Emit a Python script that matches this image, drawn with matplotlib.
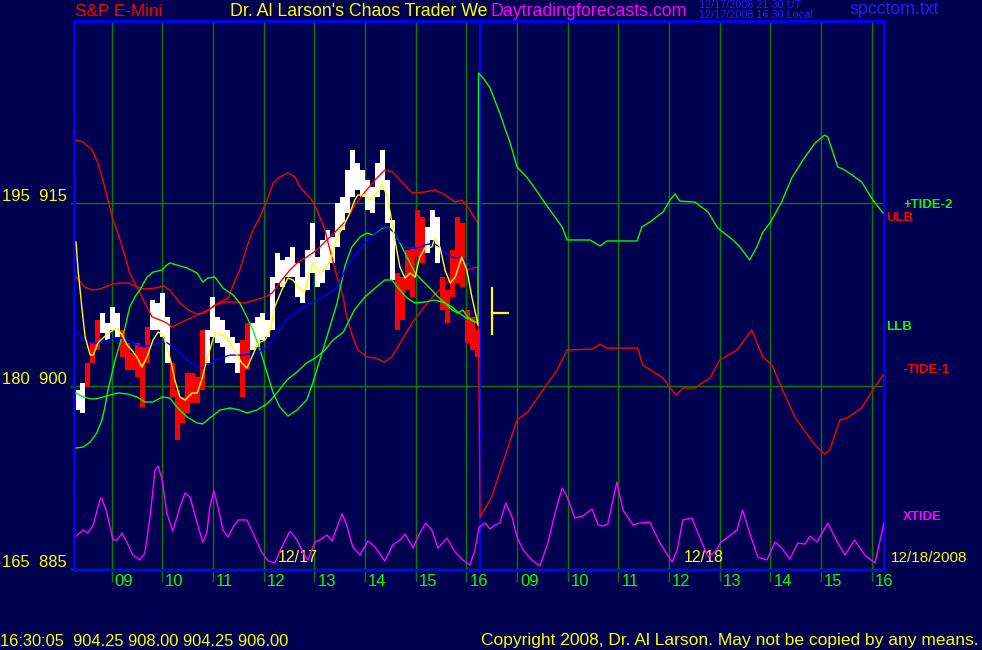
import matplotlib
matplotlib.use('Agg')
import matplotlib.pyplot as plt

# ---------------- data ----------------
hour_ticks = [0, 1, 2, 3, 4, 5, 6, 7, 8, 9, 10, 11, 12, 13, 14, 15]
hour_labels = ['09', '10', '11', '12', '13', '14', '15', '16',
               '09', '10', '11', '12', '13', '14', '15', '16']
price_levels = [885, 900, 915]
left_labels = ['165  885', '180  900', '195  915']
day_labels = ['12/17', '12/18']
day_label_x = [3.28, 11.28]
date_label = '12/18/2008'
session_break = 7.27

last_time = '16:30:05'
last_ohlc = [904.25, 908.00, 904.25, 906.00]
last_bar_x = 7.50

bar_x = [-0.66, -0.57, -0.47, -0.37, -0.28, -0.18, -0.08, 0.02, 0.12, 0.22,
         0.32, 0.41, 0.51, 0.61, 0.71, 0.81, 0.91, 1.01, 1.11, 1.20,
         1.30, 1.40, 1.50, 1.60, 1.70, 1.80, 1.90, 2.00, 2.10, 2.19,
         2.29, 2.39, 2.49, 2.59, 2.69, 2.78, 2.88, 2.98, 3.08, 3.18,
         3.28, 3.37, 3.47, 3.57, 3.67, 3.77, 3.87, 3.97, 4.06, 4.16,
         4.26, 4.36, 4.46, 4.56, 4.66, 4.75, 4.85, 4.95, 5.05, 5.15,
         5.25, 5.34, 5.44, 5.54, 5.64, 5.74, 5.84, 5.94, 6.03, 6.13,
         6.23, 6.33, 6.43, 6.53, 6.63, 6.72, 6.82, 6.92, 7.02, 7.12,
         7.22]
bar_low = [898.03, 897.79, 899.92, 901.89, 902.95, 904.34, 903.77, 904.59, 904.02, 902.38,
           901.31, 901.31, 900.74, 898.28, 901.89, 904.59, 904.59, 904.02, 901.89, 899.10,
           895.57, 896.97, 897.79, 898.61, 898.61, 899.67, 901.89, 904.02, 903.52, 903.20,
           901.89, 901.89, 901.07, 899.10, 901.31, 902.95, 903.20, 903.77, 904.02, 904.59,
           908.44, 908.11, 908.93, 908.93, 907.30, 906.80, 907.87, 909.26, 908.11, 908.44,
           909.51, 910.08, 911.39, 912.79, 914.18, 915.49, 916.07, 915.49, 914.43, 914.18,
           915.49, 916.07, 913.36, 908.69, 904.59, 905.41, 907.87, 907.30, 910.57, 910.08,
           910.90, 911.97, 910.08, 906.23, 905.16, 907.30, 908.44, 908.11, 903.52, 902.95,
           902.38]
bar_high = [899.67, 900.25, 901.89, 903.52, 905.41, 905.98, 905.16, 906.48, 905.98, 904.59,
            903.52, 902.70, 903.52, 903.20, 904.84, 907.05, 906.80, 907.62, 905.66, 901.89,
            899.67, 899.10, 901.07, 901.07, 900.74, 904.59, 904.59, 907.30, 905.66, 905.41,
            904.59, 904.02, 903.52, 903.77, 905.16, 905.16, 905.66, 905.98, 905.41, 908.93,
            910.90, 910.33, 910.57, 911.39, 910.08, 908.93, 911.15, 913.36, 910.57, 911.97,
            912.79, 912.21, 915.00, 915.49, 917.70, 919.34, 918.28, 917.70, 916.89, 916.31,
            918.28, 919.34, 916.89, 913.61, 909.26, 908.93, 911.15, 911.39, 914.43, 913.85,
            913.03, 914.43, 913.85, 908.93, 907.87, 911.15, 913.85, 913.36, 906.23, 905.66,
            904.59]
bar_up = [1, 1, 0, 0, 0, 1, 1, 1, 1, 0,
          0, 0, 0, 0, 0, 1, 1, 1, 1, 0,
          0, 0, 0, 0, 0, 0, 1, 1, 1, 1,
          1, 1, 1, 0, 0, 1, 1, 1, 1, 1,
          1, 1, 1, 1, 1, 1, 1, 1, 1, 1,
          1, 1, 1, 1, 1, 1, 1, 1, 1, 1,
          1, 1, 1, 1, 0, 0, 0, 0, 0, 0,
          1, 1, 1, 0, 0, 0, 0, 0, 0, 0,
          0]

ulb_x = [-0.70, -0.52, -0.38, -0.23, -0.03, 0.13, 0.33, 0.46, 0.66, 0.86, 1.02, 1.15,
         1.35, 1.55, 1.69, 1.84, 2.04, 2.24, 2.44, 2.63, 2.83, 3.03, 3.17, 3.36, 3.52,
         3.66, 3.85, 4.05, 4.25, 4.45, 4.64, 4.80, 5.00, 5.20, 5.39, 5.55, 5.69, 5.93,
         6.18, 6.38, 6.58, 6.78, 6.91, 7.03, 7.23]
ulb_y = [908.93, 908.11, 907.87, 907.95, 908.28, 908.44, 908.44, 908.20, 907.95, 908.03,
         908.20, 907.87, 906.80, 906.15, 905.90, 905.98, 906.64, 906.89, 906.89, 906.80,
         907.05, 907.30, 907.62, 908.69, 909.51, 910.08, 910.57, 911.15, 911.97, 912.79,
         913.61, 914.84, 915.90, 916.89, 917.70, 917.54, 916.89, 915.82, 915.90, 916.07,
         915.66, 915.08, 915.25, 914.67, 913.36]

llb_x = [-0.70, -0.56, -0.38, -0.23, -0.03, 0.13, 0.33, 0.50, 0.66, 0.82, 1.00, 1.15,
         1.29, 1.49, 1.69, 1.80, 1.94, 2.14, 2.34, 2.53, 2.67, 2.87, 3.09, 3.26, 3.46,
         3.66, 3.85, 4.05, 4.21, 4.37, 4.57, 4.80, 5.00, 5.20, 5.39, 5.53, 5.69, 5.83,
         5.99, 6.18, 6.38, 6.58, 6.72, 6.83, 6.97, 7.17, 7.23]
llb_y = [899.43, 899.10, 898.93, 899.02, 899.26, 899.43, 899.34, 899.10, 898.69, 898.69,
         899.10, 899.02, 898.28, 897.46, 896.97, 896.89, 897.38, 898.03, 898.20, 898.03,
         897.79, 898.03, 898.61, 899.43, 900.49, 901.15, 901.89, 902.38, 902.95, 903.77,
         904.40, 906.30, 907.30, 908.03, 908.69, 908.69, 907.87, 907.21, 906.80, 906.89,
         907.05, 906.80, 906.48, 906.07, 905.66, 905.25, 905.16]

tide1_x = [-0.70, -0.56, -0.38, -0.27, -0.17, -0.07, 0.03, 0.17, 0.27, 0.36, 0.50, 0.66,
           0.80, 0.96, 1.09, 1.19, 1.35, 1.65, 1.94, 2.14, 2.30, 2.44, 2.53, 2.67, 2.79,
           2.93, 3.07, 3.19, 3.32, 3.48, 3.62, 3.72, 3.92, 4.01, 4.11, 4.21, 4.31, 4.45,
           4.57, 4.64, 4.76, 4.86, 5.04, 5.20, 5.39, 5.53, 5.73, 5.93, 6.12, 6.32, 6.52,
           6.72, 6.91, 7.11, 7.23,
           7.27, 7.50, 7.72, 8.00, 8.21, 8.51, 8.79, 8.99, 9.48, 9.64, 9.77, 10.38, 10.48,
           10.88, 11.02, 11.14, 11.27, 11.51, 11.81, 12.00, 12.34, 12.63, 12.85, 13.03,
           13.24, 13.48, 13.88, 14.07, 14.17, 14.37, 14.51, 14.80, 15.02, 15.22]
tide1_y = [920.16, 920.00, 919.34, 918.28, 916.89, 915.25, 913.61, 911.97, 910.57, 909.26,
           908.11, 906.80, 905.66, 905.41, 905.16, 904.84, 905.16, 905.74, 906.31, 906.89,
           907.21, 908.69, 909.51, 911.39, 912.79, 913.85, 915.25, 916.64, 917.13, 917.46,
           917.13, 916.31, 915.41, 914.84, 913.85, 912.79, 911.15, 908.93, 907.30, 905.66,
           904.02, 902.95, 902.38, 902.30, 901.97, 902.38, 903.77, 905.16, 906.23, 907.21,
           908.11, 908.85, 909.34, 909.67, 909.75,
           889.26, 890.90, 893.69, 897.21, 897.87, 899.67, 901.31, 902.95, 903.03, 903.44,
           903.11, 903.11, 901.72, 900.66, 899.84, 899.26, 899.84, 899.84, 900.66, 902.13,
           902.95, 904.59, 902.38, 901.72, 899.67, 897.46, 895.16, 894.43, 894.75, 897.21,
           897.38, 898.20, 899.67, 900.90]

tide2_x = [-0.70, -0.56, -0.42, -0.29, -0.19, -0.13, -0.07, 0.01, 0.07, 0.17, 0.27, 0.36,
           0.46, 0.56, 0.70, 0.82, 1.00, 1.09, 1.15, 1.29, 1.49, 1.69, 1.80, 1.90, 2.04,
           2.20, 2.40, 2.53, 2.67, 2.79, 2.93, 3.07, 3.19, 3.32, 3.48, 3.66, 3.85, 3.97,
           4.17, 4.45, 4.61, 4.74, 4.90, 5.04, 5.16, 5.34, 5.45, 5.59, 5.69, 5.79, 5.89,
           5.99, 6.12, 6.32, 6.44, 6.58, 6.72, 6.83, 6.93, 7.03, 7.17, 7.23,
           7.24, 7.33, 7.47, 7.56, 7.66, 7.76, 7.86, 8.00, 8.19, 8.35, 8.55, 8.75, 8.89,
           8.99, 9.44, 9.64, 9.77, 10.37, 10.46, 10.62, 10.88, 11.02, 11.12, 11.21, 11.51,
           11.77, 11.96, 12.26, 12.40, 12.59, 12.73, 12.85, 12.99, 13.22, 13.42, 13.64,
           13.88, 14.07, 14.13, 14.33, 14.43, 14.61, 14.80, 15.02, 15.22]
tide2_y = [894.92, 895.00, 895.41, 896.15, 897.21, 898.28, 899.67, 901.07, 902.13, 903.52,
           904.84, 906.48, 907.30, 907.87, 908.93, 909.34, 909.51, 909.92, 910.08, 909.92,
           909.67, 909.26, 908.52, 908.85, 908.93, 908.03, 907.46, 906.80, 905.66, 904.59,
           902.95, 901.07, 899.43, 898.28, 897.54, 898.03, 898.85, 900.25, 902.95, 906.80,
           909.92, 911.39, 912.21, 912.54, 912.38, 912.95, 913.03, 912.54, 911.72, 910.90,
           910.08, 909.26, 908.69, 907.87, 907.30, 906.80, 906.23, 905.98, 906.23, 905.66,
           905.25, 905.16,
           925.66, 925.25, 924.43, 923.44, 922.38, 921.15, 920.00, 917.95, 917.13, 916.23,
           915.00, 913.85, 913.03, 911.97, 911.97, 911.48, 911.89, 911.89, 913.03, 913.44,
           914.26, 915.25, 915.74, 915.16, 915.08, 914.26, 912.95, 911.97, 911.39, 910.33,
           911.39, 912.62, 913.36, 915.08, 917.05, 918.52, 919.92, 920.57, 920.41, 917.95,
           917.79, 917.30, 916.72, 915.25, 914.18]

fast_x = [-0.70, -0.66, -0.58, -0.52, -0.42, -0.36, -0.27, -0.17, -0.03, 0.11, 0.21, 0.31,
          0.40, 0.50, 0.60, 0.70, 0.82, 0.92, 1.02, 1.15, 1.25, 1.35, 1.45, 1.59, 1.69,
          1.79, 1.88, 1.98, 2.04, 2.20, 2.34, 2.44, 2.57, 2.67, 2.77, 2.89, 3.03, 3.13,
          3.22, 3.36, 3.48, 3.58, 3.68, 3.81, 3.88, 3.97, 4.11, 4.25, 4.35, 4.45, 4.57,
          4.70, 4.80, 4.86, 5.00, 5.10, 5.24, 5.34, 5.43, 5.49, 5.59, 5.69, 5.79, 5.89,
          5.99, 6.08, 6.18, 6.32, 6.38, 6.48, 6.58, 6.68, 6.78, 6.91, 7.01, 7.11, 7.21,
          7.23]
fast_y = [911.80, 909.51, 906.23, 904.02, 902.54, 902.54, 903.52, 903.93, 904.43, 904.75,
          904.18, 903.36, 902.95, 902.38, 901.56, 902.38, 903.77, 904.43, 904.18, 902.38,
          900.49, 899.10, 898.85, 899.43, 899.43, 900.66, 902.13, 903.52, 904.34, 904.18,
          903.52, 902.79, 901.89, 901.48, 902.38, 903.52, 903.77, 904.59, 906.48, 907.87,
          908.85, 908.69, 908.11, 907.70, 908.93, 910.08, 909.26, 909.75, 910.74, 912.21,
          913.03, 914.18, 915.25, 915.66, 915.66, 915.25, 915.82, 916.48, 915.66, 914.43,
          911.97, 909.75, 908.85, 909.26, 908.93, 910.57, 911.31, 911.39, 912.13, 911.39,
          909.51, 908.44, 908.93, 910.57, 909.51, 907.30, 905.41, 905.00]

slow_x = [-0.70, -0.56, -0.36, -0.17, 0.03, 0.23, 0.42, 0.62, 0.82, 1.00, 1.11, 1.29,
          1.49, 1.69, 1.80, 2.04, 2.34, 2.59, 2.87, 3.07, 3.26, 3.46, 3.66, 3.85, 4.05,
          4.25, 4.45, 4.64, 4.80, 5.00, 5.20, 5.34, 5.45, 5.59, 5.69, 5.85, 6.05, 6.18,
          6.34, 6.48, 6.64, 6.78, 6.91, 7.03, 7.17]
slow_y = [904.59, 903.77, 903.52, 903.61, 903.93, 903.93, 903.52, 903.20, 903.36, 903.61,
          903.52, 902.95, 902.13, 901.56, 901.48, 902.13, 902.54, 902.54, 902.70, 903.20,
          904.34, 905.41, 906.07, 906.64, 907.05, 907.46, 908.11, 909.75, 910.74, 911.72,
          912.54, 913.03, 913.03, 912.54, 911.80, 911.31, 911.31, 911.56, 911.72, 911.39,
          910.74, 910.49, 910.57, 910.08, 909.26]

xtide_x = [-0.70, -0.56, -0.47, -0.36, -0.23, -0.19, -0.09, 0.03, 0.11, 0.21, 0.31, 0.42,
           0.56, 0.66, 0.76, 0.86, 0.92, 1.00, 1.09, 1.21, 1.35, 1.45, 1.55, 1.69, 1.80,
           1.88, 1.94, 2.02, 2.10, 2.20, 2.30, 2.40, 2.50, 2.67, 2.79, 2.97, 3.09, 3.22,
           3.36, 3.52, 3.66, 3.78, 3.88, 4.01, 4.11, 4.25, 4.35, 4.45, 4.55, 4.64, 4.76,
           4.90, 5.06, 5.20, 5.39, 5.55, 5.69, 5.79, 5.95, 6.08, 6.20, 6.32, 6.44, 6.62,
           6.78, 6.93, 7.07, 7.17, 7.25, 7.37, 7.47, 7.56, 7.66, 7.78, 7.90, 8.00, 8.12,
           8.29, 8.45, 8.61, 8.75, 8.89, 8.99, 9.14, 9.30, 9.48, 9.60, 9.69, 9.79, 9.97,
           10.09, 10.29, 10.42, 10.62, 10.82, 11.06, 11.16, 11.27, 11.45, 11.61, 11.77,
           11.94, 12.02, 12.16, 12.34, 12.45, 12.59, 12.75, 12.93, 13.09, 13.22, 13.38,
           13.54, 13.68, 13.78, 13.92, 14.13, 14.33, 14.47, 14.66, 14.86, 15.06, 15.24]
xtide_y = [887.70, 888.20, 887.95, 888.61, 890.66, 890.82, 889.59, 887.38, 887.38, 887.95,
           887.13, 886.15, 885.74, 886.31, 889.26, 893.11, 893.44, 892.30, 889.59, 888.11,
           890.08, 891.23, 890.90, 888.77, 887.21, 887.95, 890.08, 891.39, 890.08, 888.20,
           887.62, 888.44, 889.02, 889.02, 887.95, 886.31, 885.66, 885.49, 886.80, 888.11,
           887.38, 886.31, 885.74, 887.21, 887.38, 887.79, 887.30, 888.44, 889.51, 888.61,
           886.80, 886.15, 887.30, 886.80, 885.66, 886.97, 887.38, 887.87, 886.72, 887.95,
           888.77, 888.20, 886.72, 887.54, 886.39, 885.74, 885.33, 886.56, 888.44, 888.77,
           888.28, 888.61, 888.77, 890.41, 889.26, 887.62, 886.56, 885.74, 885.25, 887.13,
           889.59, 891.64, 890.90, 889.18, 889.34, 889.92, 888.61, 888.52, 888.69, 892.13,
           889.84, 888.61, 888.77, 888.85, 887.13, 885.57, 886.56, 889.02, 889.18, 887.54,
           885.98, 886.56, 887.21, 887.62, 888.20, 889.84, 887.95, 885.98, 885.74, 887.21,
           886.72, 885.82, 887.13, 887.05, 887.70, 887.21, 888.77, 887.13, 886.15, 887.38,
           886.15, 885.49, 888.77]

# ---------------- styling ----------------
BG = '#000050'
GRID = '#008000'
BORDER = '#0000FF'
FAM = ['Liberation Sans', 'DejaVu Sans']

W, H = 982, 650
fig = plt.figure(figsize=(W / 100, H / 100), dpi=100, facecolor=BG)
ax = fig.add_axes([74 / W, 80 / H, 810 / W, 549 / H])
ax.set_facecolor(BG)
ax.set_xlim(-0.74, 15.24)
ax.set_ylim(884.92, 929.92)
ax.set_xticks([])
ax.set_yticks([])
for s in ax.spines.values():
    s.set_color(BORDER)
    s.set_linewidth(2)

# grid
for t in hour_ticks:
    ax.axvline(t, ymin=-0.02, ymax=1, color=GRID, lw=1, clip_on=False, zorder=1)
for p in price_levels:
    ax.axhline(p, xmin=-0.004, xmax=1, color=GRID, lw=1, clip_on=False, zorder=1)
ax.axvline(session_break, color=BORDER, lw=1.5, zorder=1)

# price bars
heights = [h - l for h, l in zip(bar_high, bar_low)]
colors = ['white' if u else '#FF0000' for u in bar_up]
ax.bar(bar_x, heights, bottom=bar_low, width=0.1, color=colors, linewidth=0, zorder=3)

lw = 1.0
ax.plot(tide1_x, tide1_y, color='#FF0000', lw=lw, zorder=4)
ax.plot(ulb_x, ulb_y, color='#FF0000', lw=lw, zorder=4)
ax.plot(tide2_x, tide2_y, color='#00FF00', lw=lw, zorder=4)
ax.plot(llb_x, llb_y, color='#00FF00', lw=lw, zorder=4)
ax.plot(slow_x, slow_y, color='#0000FF', lw=lw, zorder=5)
ax.plot(fast_x, fast_y, color='#FFFF00', lw=lw, zorder=5)
ax.plot(xtide_x, xtide_y, color='#FF00FF', lw=lw, zorder=4)

# last bar marker (OHLC)
o, hi, lo, c = last_ohlc
ax.plot([last_bar_x, last_bar_x], [lo, hi], color='#FFFF00', lw=1.6, zorder=6)
ax.plot([last_bar_x, last_bar_x + 0.32], [c, c], color='#FFFF00', lw=1.6, zorder=6)

# hour tick labels
for t, lab in zip(hour_ticks, hour_labels):
    ax.annotate(lab, xy=(t, 0), xycoords=('data', 'axes fraction'),
                xytext=(3, -11), textcoords='offset pixels', ha='left', va='center',
                color='#00FF00', fontsize=12, family=FAM, annotation_clip=False)

# left price labels
for p, lab in zip(price_levels, left_labels):
    ax.annotate(lab, xy=(0, p), xycoords=('axes fraction', 'data'),
                xytext=(-72, 7), textcoords='offset pixels', ha='left', va='center',
                color='#FFFF00', fontsize=12, family=FAM, annotation_clip=False)

# day labels
for dx, lab in zip(day_label_x, day_labels):
    ax.annotate(lab, xy=(dx, 0), xycoords=('data', 'axes fraction'),
                xytext=(0, 12), textcoords='offset pixels', ha='left', va='center',
                color='#FFFF00', fontsize=11.5, family=FAM)
ax.annotate(date_label, xy=(1, 0), xycoords='axes fraction', xytext=(7, 12),
            textcoords='offset pixels', ha='left', va='center', color='#FFFF00',
            fontsize=11, family=FAM, annotation_clip=False)

# right series labels (text, anchor value, x offset px, y offset px, colour)
right_labels = [('+TIDE-2', tide2_y[-1], 19, 8, '#00FF00'),
                ('ULB', ulb_y[-1], 2, 5, '#FF0000'),
                ('LLB', llb_y[-1], 2, -4, '#00FF00'),
                ('-TIDE-1', tide1_y[-1], 19, 5, '#FF0000'),
                ('XTIDE', xtide_y[-1], 19, 6, '#FF00FF')]
for lab, val, dx, dy, col in right_labels:
    ax.annotate(lab, xy=(1, val), xycoords=('axes fraction', 'data'), xytext=(dx, dy),
                textcoords='offset pixels', ha='left', va='center', color=col,
                fontsize=9.5, family=FAM, fontweight='bold', annotation_clip=False)

# header / footer texts
def ftext(px, py, s, col, size, **kw):
    fig.text(px / W, 1 - py / H, s, color=col, fontsize=size, family=FAM,
             ha='left', va='center', **kw)

ftext(75, 11, 'S&P E-Mini', '#FF0000', 12.3)
ftext(230, 11, "Dr. Al Larson's Chaos Trader We", '#FFFF00', 12.8)
ftext(491, 11, 'Daytradingforecasts.com', '#FF00FF', 12.8)
ftext(699, 5, '12/17/2008 21:30 UT', '#2020FF', 7.8)
ftext(699, 15, '12/17/2008 16:30 Local', '#2020FF', 7.8)
ftext(850, 10, 'spcctom.txt', '#2020FF', 12.8)

ohlc_str = '  '.join([last_time, ' '.join('%.2f' % v for v in last_ohlc)])
ftext(0, 641, ohlc_str, '#FFFF00', 11.9)
ftext(481, 641, 'Copyright 2008, Dr. Al Larson. May not be copied by any means.',
      '#FFFF00', 12.5)

fig.savefig('out.png', dpi=100, facecolor=BG)
